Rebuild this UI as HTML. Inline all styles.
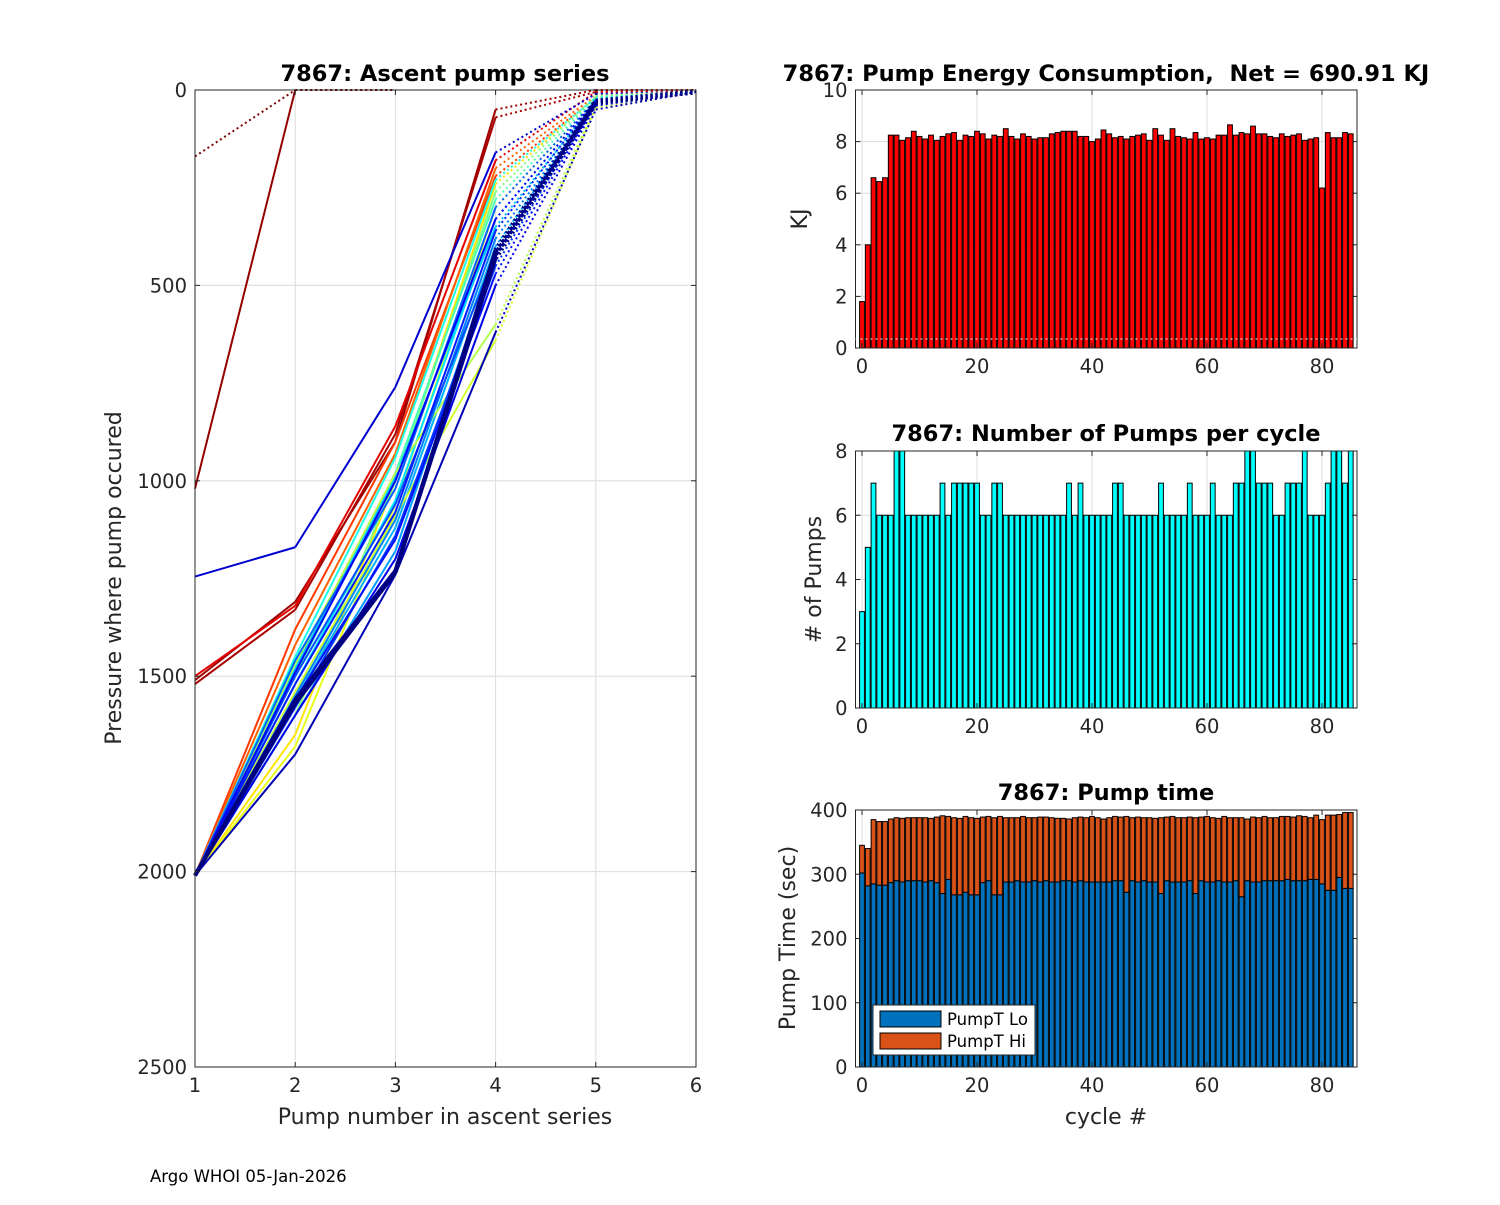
<!DOCTYPE html>
<html><head><meta charset="utf-8"><style>
body{margin:0;background:#fff;}
svg text{font-family:"DejaVu Sans","Liberation Sans",sans-serif;white-space:pre;}
</style></head><body>
<svg id="fig" width="1500" height="1200" xmlns="http://www.w3.org/2000/svg" xml:space="preserve">
<rect width="1500" height="1200" fill="#fff"/>
<g id="left"></g>
<g id="energy"></g>
<g id="pumps"></g>
<g id="ptime"></g>
<text x="150" y="1182" font-size="16.5" fill="#000">Argo WHOI 05-Jan-2026</text>
</svg>
<script>
// ---------- data ----------
const pumpNums=[1,2,3,4,5,6];
const profiles=[
 [170,0,0],
 [1020,0,0],
 [1510,1310,900,50,0,0],
 [1520,1330,880,70,5,0],
 [1500,1320,860,180,5,0],
 [1245,1170,760,160,10,5],
 [2010,1380,900,220,20,5],
 [2010,1420,930,200,15,5],
 [2010,1650,1000,240,20,5],
 [2010,1680,1060,300,25,5],
 [2010,1600,1000,260,15,5],
 [2010,1500,980,280,20,5],
 [2010,1450,940,230,20,5],
 [2010,1520,1050,330,25,5],
 [2010,1480,990,350,30,5],
 [2010,1560,1120,400,30,5],
 [2010,1470,980,600,40,5],
 [2010,1540,1090,640,45,5],
 [2010,1600,1180,420,30,5],
 [2010,1550,1100,380,30,5],
 [2010,1460,1020,300,25,5],
 [2010,1500,1060,420,30,5],
 [2010,1580,1140,450,30,5],
 [2010,1520,1080,360,25,5],
 [2010,1560,1150,470,35,5],
 [2010,1490,1000,330,25,5],
 [2010,1600,1200,500,40,5],
 [2010,1700,1240,620,50,5],
 [2010,1560,1230,420,30,5],
 [2010,1565,1232,430,32,5],
 [2010,1570,1235,410,28,5]
];
const profileColor=[1,0.98,0.97,0.96,0.9,0.08,0.82,0.78,0.65,0.6,0.5,0.45,0.4,0.35,0.32,0.3,0.55,0.58,0.28,0.25,0.22,0.2,0.18,0.15,0.14,0.12,0.1,0.05,0.02,0.01,0];
const solidUntil=[0,2,4,4,4,4,4,4,4,4,4,4,4,4,4,4,4,4,4,4,4,4,4,4,4,4,4,4,4,4,4];
const leftXTicks=[1,2,3,4,5,6];
const leftYTicks=[0,500,1000,1500,2000,2500];

const cycles=[];for(let i=0;i<86;i++)cycles.push(i);
const energy=[1.8,4.0,6.6,6.45,6.6,8.25,8.25,8.05,8.15,8.4,8.2,8.1,8.25,8.05,8.2,8.3,8.35,8.05,8.25,8.2,8.4,8.3,8.1,8.25,8.2,8.5,8.2,8.1,8.3,8.2,8.1,8.15,8.15,8.3,8.35,8.4,8.4,8.4,8.2,8.2,8.0,8.1,8.45,8.3,8.15,8.2,8.1,8.2,8.25,8.3,8.05,8.5,8.25,8.05,8.5,8.2,8.15,8.1,8.35,8.1,8.15,8.1,8.25,8.25,8.65,8.25,8.35,8.3,8.6,8.3,8.3,8.2,8.15,8.3,8.2,8.25,8.3,8.05,8.1,8.15,6.2,8.35,8.15,8.15,8.35,8.3];
const numPumps=[3,5,7,6,6,6,8,8,6,6,6,6,6,6,7,6,7,7,7,7,7,6,6,7,7,6,6,6,6,6,6,6,6,6,6,6,7,6,7,6,6,6,6,6,7,7,6,6,6,6,6,6,7,6,6,6,6,7,6,6,6,7,6,6,6,7,7,8,8,7,7,7,6,6,7,7,7,8,6,6,6,7,8,8,7,8];
const pumpLo=[302,282,285,283,283,287,290,288,290,290,290,288,290,287,270,292,268,268,272,268,268,287,290,268,268,288,288,290,288,288,290,288,290,288,288,290,290,288,290,288,288,288,288,288,290,290,272,290,288,290,288,288,270,290,288,288,288,290,270,290,288,288,290,288,288,290,265,290,288,288,290,290,290,290,292,290,290,290,292,292,285,275,275,295,278,278];
const pumpTot=[345,340,385,382,382,386,388,387,388,388,388,388,387,389,391,390,388,387,390,388,387,389,390,388,390,388,388,388,390,388,388,389,389,388,387,387,386,388,389,388,390,388,386,388,390,389,390,388,389,388,388,387,388,389,390,388,388,389,388,389,390,388,387,390,388,388,388,386,389,388,390,388,388,390,390,389,391,390,388,392,385,392,392,393,396,396];
const pumpHi=pumpTot.map((t,i)=>t-pumpLo[i]);
const cycleTicks=[0,20,40,60,80];
const energyTicks=[0,2,4,6,8,10];
const pumpTicks=[0,2,4,6,8];
const timeTicks=[0,100,200,300,400];

// ---------- helpers ----------
const NS="http://www.w3.org/2000/svg";
const TICK=19.5, TTL=22.5, LBL=22;
function mk(tag,attrs,parent,txt){const e=document.createElementNS(NS,tag);for(const k in attrs)e.setAttribute(k,attrs[k]);if(txt!==undefined)e.textContent=txt;parent.appendChild(e);return e;}
function jet(t){const r=Math.min(Math.max(Math.min(4*t-1.5,-4*t+4.5),0),1);const g=Math.min(Math.max(Math.min(4*t-0.5,-4*t+3.5),0),1);const b=Math.min(Math.max(Math.min(4*t+0.5,-4*t+2.5),0),1);return `rgb(${Math.round(r*255)},${Math.round(g*255)},${Math.round(b*255)})`;}
function axesFrame(g,L,T,R,B,xt,yt,xs,ys){
  xt.forEach(v=>{const x=xs(v);const l=mk('line',{x1:x,x2:x,y1:T,y2:B,stroke:'#dcdcdc','stroke-width':1},g);});
  yt.forEach(v=>{const y=ys(v);const l=mk('line',{x1:L,x2:R,y1:y,y2:y,stroke:'#dcdcdc','stroke-width':1},g);});
}
function axesBox(g,L,T,R,B,xt,yt,xs,ys){
  const r=mk('rect',{x:L,y:T,width:R-L,height:B-T,fill:'none',stroke:'#262626','stroke-width':1},g);
  
  xt.forEach(v=>{const x=xs(v);mk('line',{x1:x,x2:x,y1:B,y2:B-5,stroke:'#262626'},g);mk('line',{x1:x,x2:x,y1:T,y2:T+5,stroke:'#262626'},g);
    const t=mk('text',{x:x,y:B+25,'font-size':TICK,'text-anchor':'middle',fill:'#262626'},g,String(v));});
  yt.forEach(v=>{const y=ys(v);mk('line',{x1:L,x2:L+5,y1:y,y2:y,stroke:'#262626'},g);mk('line',{x1:R,x2:R-5,y1:y,y2:y,stroke:'#262626'},g);
    const t=mk('text',{x:L-8,y:y+7,'font-size':TICK,'text-anchor':'end',fill:'#262626'},g,String(v));});
}
function title(g,x,y,s){const t=mk('text',{x:x,y:y,'font-size':TTL,'font-weight':'bold','text-anchor':'middle',fill:'#000'},g,s);}
function ylabel(g,x,y,s){const t=mk('text',{x:x,y:y,'font-size':LBL,'text-anchor':'middle',fill:'#262626',transform:`rotate(-90 ${x} ${y})`},g,s);}
function xlabel(g,x,y,s){const t=mk('text',{x:x,y:y,'font-size':LBL,'text-anchor':'middle',fill:'#262626'},g,s);}

// ---------- left chart ----------
(function(){
 const g=document.getElementById('left');
 const L=195,R=696,T=90,B=1067;
 const xs=v=>L+(v-1)/5*(R-L), ys=v=>T+v/2500*(B-T);
 axesFrame(g,L,T,R,B,leftXTicks,leftYTicks,xs,ys);
 profiles.forEach((p,i)=>{
   const c=jet(profileColor[i]);
   const thick=profileColor[i]<0.03?4:2;
   for(let k=0;k<p.length-1;k++){
     const solid=k<solidUntil[i]-1;
     const l=mk('line',{x1:xs(pumpNums[k]),y1:ys(p[k]),x2:xs(pumpNums[k+1]),y2:ys(p[k+1]),stroke:c,'stroke-width':solid?thick:(profileColor[i]<0.03?5:2),'stroke-dasharray':solid?'none':'2 3'},g);
     
     
   }
 });
 axesBox(g,L,T,R,B,leftXTicks,leftYTicks,xs,ys);
 title(g,445,81,'7867: Ascent pump series');
 xlabel(g,445,1124,'Pump number in ascent series');
 ylabel(g,121,578,'Pressure where pump occured');
})();

// ---------- bar charts ----------
const BL=855.5,BR=1357;
const bxs=v=>862+v*5.75;
function barChart(id,T,B,ymax,yt,vals,fill,ttl,ttlY,yl,ylx){
 const g=document.getElementById(id);
 const ys=v=>B-v/ymax*(B-T);
 axesFrame(g,BL,T,BR,B,cycleTicks,yt,bxs,ys);
 cycles.forEach((c,i)=>{
   const v=Math.min(vals[i],ymax);
   const r=mk('rect',{x:bxs(c)-2.4,y:ys(v),width:4.8,height:B-ys(v),fill:fill,stroke:'#000','stroke-width':1},g);
   
   
 });
 axesBox(g,BL,T,BR,B,cycleTicks,yt,bxs,ys);
 title(g,1106,ttlY,ttl);
 ylabel(g,ylx,(T+B)/2,yl);
 return {g,ys};
}
const e=barChart('energy',90,348,10,energyTicks,energy,'#ff0000','7867: Pump Energy Consumption,\u00a0 Net = 690.91 KJ',81,'KJ',807);
mk('line',{x1:BL,x2:BR,y1:e.ys(0.35),y2:e.ys(0.35),stroke:'#fff','stroke-dasharray':'2 3'},e.g);
barChart('pumps',451,708,8,pumpTicks,numPumps,'#00ffff','7867: Number of Pumps per cycle',441,'# of Pumps',821);

(function(){
 const g=document.getElementById('ptime');
 const T=810,B=1067,ymax=400;
 const ys=v=>B-v/ymax*(B-T);
 axesFrame(g,BL,T,BR,B,cycleTicks,timeTicks,bxs,ys);
 cycles.forEach((c,i)=>{
   const r1=mk('rect',{x:bxs(c)-2.4,y:ys(pumpLo[i]),width:4.8,height:B-ys(pumpLo[i]),fill:'#0072bd',stroke:'#000','stroke-width':1},g);
   
   
   const r2=mk('rect',{x:bxs(c)-2.4,y:ys(pumpLo[i]+pumpHi[i]),width:4.8,height:ys(pumpLo[i])-ys(pumpLo[i]+pumpHi[i]),fill:'#d95319',stroke:'#000','stroke-width':1},g);
   
   
 });
 axesBox(g,BL,T,BR,B,cycleTicks,timeTicks,bxs,ys);
 title(g,1106,800,'7867: Pump time');
 ylabel(g,795,938,'Pump Time (sec)');
 xlabel(g,1106,1124,'cycle #');
 const lg=mk('g',{},g);
 mk('rect',{x:873,y:1005,width:162,height:50,fill:'#fff',stroke:'#262626'},lg);
 mk('rect',{x:880,y:1011,width:61,height:16,fill:'#0072bd',stroke:'#000'},lg);
 mk('rect',{x:880,y:1033,width:61,height:16,fill:'#d95319',stroke:'#000'},lg);
 const t1=mk('text',{x:947,y:1025,'font-size':16.5,fill:'#000'},lg,'PumpT Lo');
 const t2=mk('text',{x:947,y:1047,'font-size':16.5,fill:'#000'},lg,'PumpT Hi');
})();
</script>
</body></html>
